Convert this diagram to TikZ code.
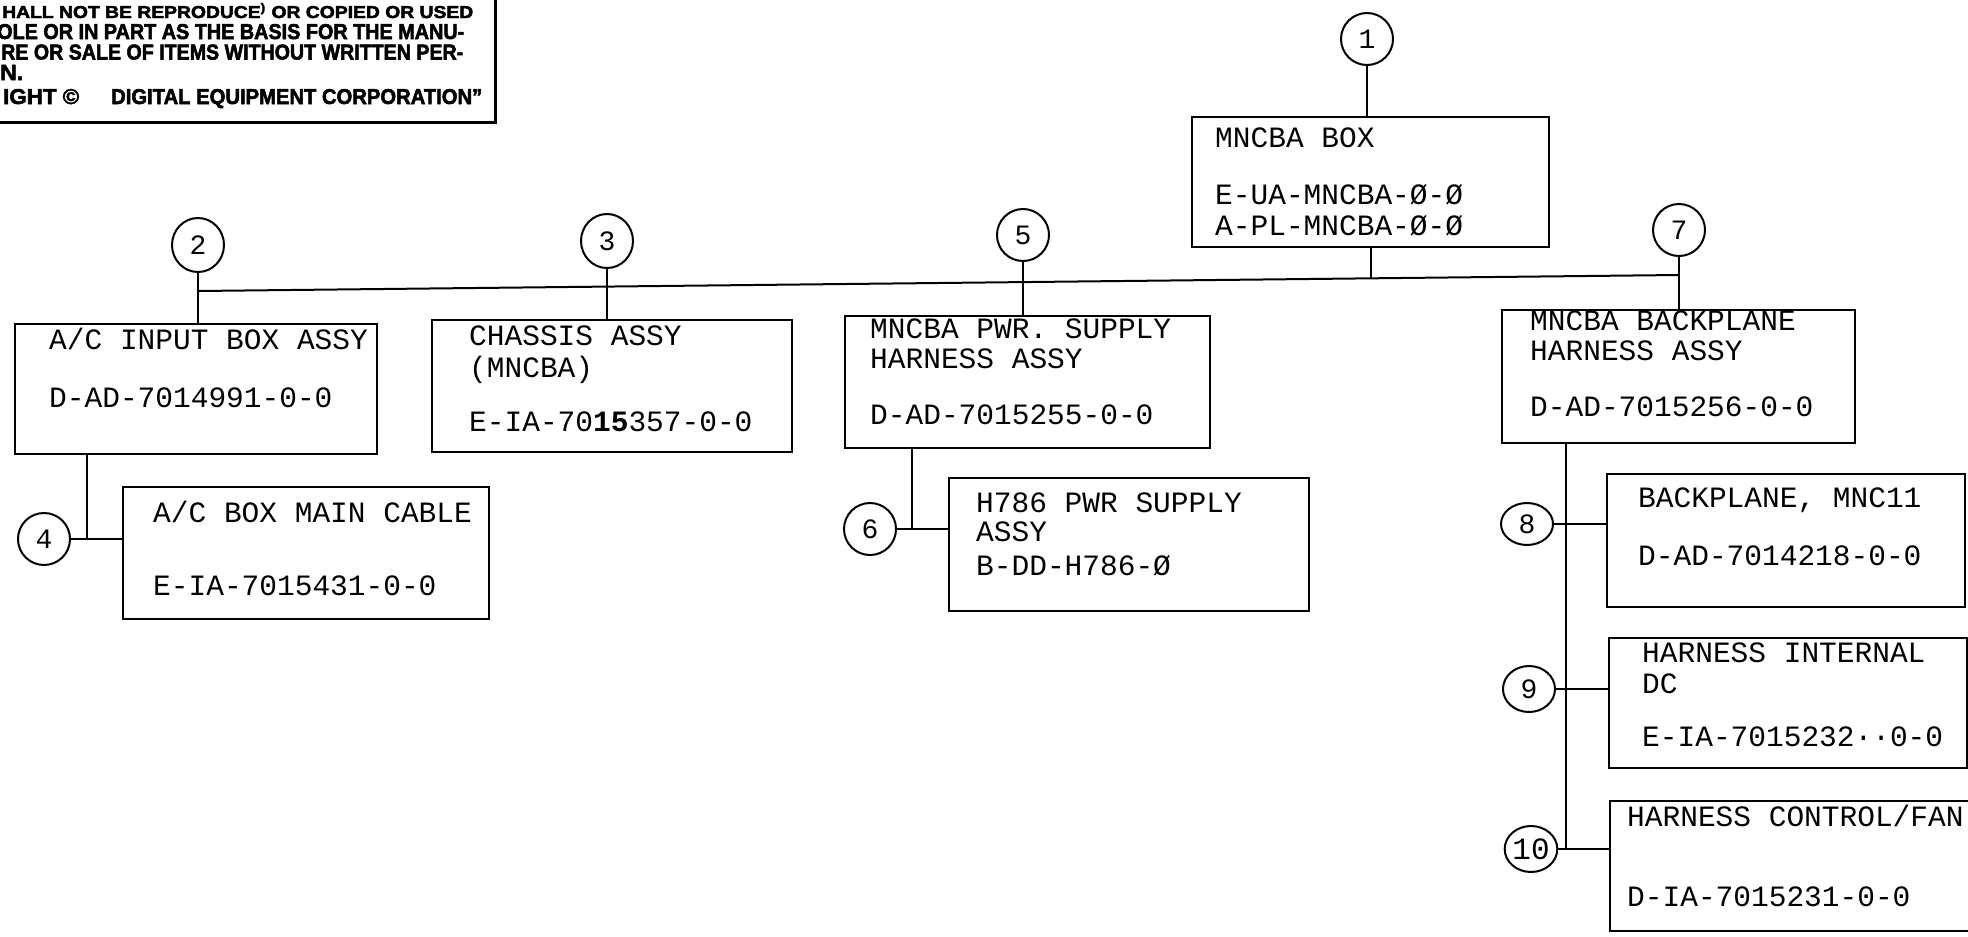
\documentclass[tikz,border=0pt]{standalone}
\usepackage{fontspec}
\usetikzlibrary{shapes.geometric}
\newfontfamily\twfont{Liberation Mono}
\newfontfamily\ntfont{Liberation Sans}[BoldFeatures={FakeBold=2.5}]
\begin{document}
\begin{tikzpicture}[x=1pt,y=-1pt,
  box/.style={draw,line width=2.2pt,rectangle,inner sep=0pt},
  num/.style={draw,line width=2pt,ellipse,inner sep=0pt,minimum width=52pt,minimum height=52pt,font=\twfont\fontsize{28}{28}\selectfont},
  txt/.style={anchor=base west,inner sep=0pt,font=\twfont\fontsize{29.5}{29.5}\selectfont},
  link/.style={line width=2pt},
  ntc/.style={anchor=base west,inner sep=0pt}]
\useasboundingbox (0,0) rectangle (1968,937);
\clip (0,0) rectangle (1968,937);
\fill[white] (0,0) rectangle (1968,937);
% notice block
\draw[line width=3pt] (-10,122) -- (495,122) -- (495,-10);
\node[ntc] (n1) at (2,18) {\resizebox{471pt}{15pt}{\ntfont\bfseries HALL NOT BE REPRODUCE\textsuperscript{)} OR COPIED OR USED}};
\node[ntc] (n2) at (-3,39) {\resizebox{467pt}{15pt}{\ntfont\bfseries OLE OR IN PART AS THE BASIS FOR THE MANU-}};
\node[ntc] (n3) at (1,59.5) {\resizebox{462pt}{15pt}{\ntfont\bfseries RE OR SALE OF ITEMS WITHOUT WRITTEN PER-}};
\node[ntc] (n4) at (0,80) {\resizebox{23pt}{15pt}{\ntfont\bfseries N.}};
\node[ntc] (n5) at (3,104) {\resizebox{76pt}{15pt}{\ntfont\bfseries IGHT ©}};
\node[ntc] (n6) at (111,104) {\resizebox{371pt}{15pt}{\ntfont\bfseries DIGITAL EQUIPMENT CORPORATION”}};
% boxes
\node[box,minimum width=357pt,minimum height=130pt] (b1) at (1370.5,182) {};
\node[box,minimum width=362pt,minimum height=130pt] (b2) at (196,389) {};
\node[box,minimum width=360pt,minimum height=132pt] (b3) at (612,386) {};
\node[box,minimum width=365pt,minimum height=132pt] (b5) at (1027.5,382) {};
\node[box,minimum width=353pt,minimum height=133pt] (b7) at (1678.5,376.5) {};
\node[box,minimum width=366pt,minimum height=132pt] (b4) at (306,553) {};
\node[box,minimum width=360pt,minimum height=133pt] (b6) at (1129,544.5) {};
\node[box,minimum width=358pt,minimum height=133pt] (b8) at (1786,540.5) {};
\node[box,minimum width=358pt,minimum height=130pt] (b9) at (1788,703) {};
\node[box,minimum width=370pt,minimum height=130pt] (b10) at (1795,866) {};
% texts
\node[txt] (t1a) at (1215,147) {MNCBA BOX};
\node[txt] (t1b) at (1215,204) {E-UA-MNCBA-Ø-Ø};
\node[txt] (t1c) at (1215,235) {A-PL-MNCBA-Ø-Ø};
\node[txt] (t2a) at (49,349) {A/C INPUT BOX ASSY};
\node[txt] (t2b) at (49,407) {D-AD-7014991-0-0};
\node[txt] (t3a) at (469,345) {CHASSIS ASSY};
\node[txt] (t3b) at (469,377) {(MNCBA)};
\node[txt] (t3c) at (469,431) {E-IA-70{\bfseries 15}357-0-0};
\node[txt] (t5a) at (870,338) {MNCBA PWR. SUPPLY};
\node[txt] (t5b) at (870,368) {HARNESS ASSY};
\node[txt] (t5c) at (870,424) {D-AD-7015255-0-0};
\node[txt] (t7a) at (1530,330) {MNCBA BACKPLANE};
\node[txt] (t7b) at (1530,360) {HARNESS ASSY};
\node[txt] (t7c) at (1530,416) {D-AD-7015256-0-0};
\node[txt] (t4a) at (153,522) {A/C BOX MAIN CABLE};
\node[txt] (t4b) at (153,595) {E-IA-7015431-0-0};
\node[txt] (t6a) at (976,512) {H786 PWR SUPPLY};
\node[txt] (t6b) at (976,541) {ASSY};
\node[txt] (t6c) at (976,575) {B-DD-H786-Ø};
\node[txt] (t8a) at (1638,507) {BACKPLANE, MNC11};
\node[txt] (t8b) at (1638,565) {D-AD-7014218-0-0};
\node[txt] (t9a) at (1642,662) {HARNESS INTERNAL};
\node[txt] (t9b) at (1642,693) {DC};
\node[txt] (t9c) at (1642,746) {E-IA-7015232··0-0};
\node[txt] (t10a) at (1627,826) {HARNESS CONTROL/FAN};
\node[txt] (t10b) at (1627,906) {D-IA-7015231-0-0};
% circles
\node[num] (c1) at (1367,39) {1};
\node[num,minimum height=54pt] (c2) at (198,245) {2};
\node[num,minimum height=54pt] (c3) at (607,241) {3};
\node[num] (c5) at (1023,235) {5};
\node[num] (c7) at (1679,230) {7};
\node[num] (c4) at (44,539) {4};
\node[num] (c6) at (870,529) {6};
\node[num,minimum height=42pt] (c8) at (1527,524) {8};
\node[num,minimum height=46pt] (c9) at (1529,689) {9};
\node[num,minimum width=50pt,minimum height=46pt,font=\twfont\fontsize{31}{31}\selectfont] (c10) at (1531,849) {10};
% bus
\coordinate (busL) at (198,291);
\coordinate (busR) at (1679,275);
\coordinate (j1) at (1370.5,278.4);
\draw[link] (busL) -- (busR);
\draw[link] (c1.south) -- (c1.south |- b1.north);
\draw[link] (b1.south) -- (j1);
\draw[link] (c2.south) -- (c2.south |- b2.north);
\draw[link] (c3.south) -- (c3.south |- b3.north);
\draw[link] (c5.south) -- (c5.south |- b5.north);
\draw[link] (c7.south) -- (c7.south |- b7.north);
% sub links
\coordinate (v2) at (87,539);
\draw[link] (v2 |- b2.south) -- (v2);
\draw[link] (c4.east) -- (c4.east -| b4.west);
\coordinate (v5) at (912,529);
\draw[link] (v5 |- b5.south) -- (v5);
\draw[link] (c6.east) -- (c6.east -| b6.west);
\coordinate (v7) at (1566,849);
\draw[link] (v7 |- b7.south) -- (v7);
\draw[link] (c8.east) -- (c8.east -| b8.west);
\draw[link] (c9.east) -- (c9.east -| b9.west);
\draw[link] (c10.east) -- (c10.east -| b10.west);
\end{tikzpicture}
\end{document}
